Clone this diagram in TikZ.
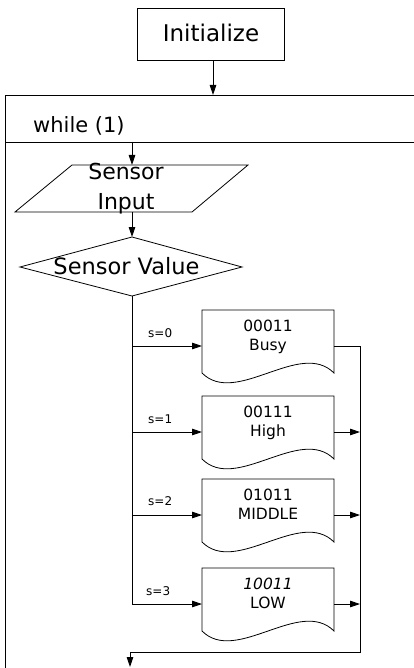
\documentclass[tikz,border=0pt]{standalone}
\usepackage{fontspec}
\setmainfont{DejaVu Sans}
\usetikzlibrary{arrows.meta}

\tikzset{
  line/.style={draw=black, line width=0.8pt},
  flow/.style={line, -{Triangle[length=10pt,width=6.5pt]}},
  lbl/.style={font=\fontsize{12}{12}\selectfont, inner sep=0pt, anchor=base west},
  boxtext/.style={font=\fontsize{15.5}{16}\selectfont, inner sep=0pt, anchor=base},
  bigtext/.style={font=\fontsize{22}{24}\selectfont, inner sep=0pt, anchor=base},
}

% document-shaped process box: name, top edge, first line, second line
\newcommand\docbox[4]{%
  \draw[line] (202,#2) -- (334,#2) -- (334,#2+63)
    .. controls (300,#2+29) and (236,#2+97) .. (202,#2+63) -- cycle;
  \node[boxtext] (#1a) at (268,#2+21.5) {#3};
  \node[boxtext] (#1b) at (268,#2+40.5) {#4};
  \coordinate (#1in) at (202,#2+36);
  \coordinate (#1out) at (334,#2+36);
}

\begin{document}
\begin{tikzpicture}[x=1pt, y=-1pt]
  \useasboundingbox (0,0) rectangle (414,668);

  % initialisation step
  \node[line, draw, minimum width=147pt, minimum height=52pt, inner sep=0pt,
        text depth=3pt, font=\fontsize{23}{24}\selectfont] (init) at (211,34) {Initialize};

  % endless loop frame with its header
  \draw[line] (414,95) -- (5,95) -- (5,668);
  \draw[line] (5,142) -- (414,142);
  \node[font=\fontsize{21}{24}\selectfont, inner sep=0pt, anchor=base west] (loop) at (33,133) {while (1)};
  \coordinate (loopin) at (213,95);
  \coordinate (hdr) at (132,142);

  % sensor input (parallelogram)
  \draw[line] (72,165) -- (248,165) -- (192,212) -- (15,212) -- cycle;
  \node[bigtext] (si1) at (126,180) {Sensor};
  \node[bigtext] (si2) at (126,210) {Input};
  \coordinate (sitop) at (132,165);
  \coordinate (sibot) at (132,212);

  % decision on the sensor value
  \draw[line] (132,237) -- (242,267) -- (132,296) -- (20,267) -- cycle;
  \node[bigtext, font=\fontsize{22.5}{24}\selectfont] (sv) at (126.5,274) {Sensor Value};
  \coordinate (dtop) at (132,237);
  \coordinate (dbot) at (132,296);

  % the four output states
  \docbox{busy}{310}{00011}{Busy}
  \docbox{high}{396}{00111}{High}
  \docbox{mid}{479}{01011}{MIDDLE}
  \docbox{low}{568}{\textit{10011}}{LOW}

  % flow into the loop body
  \draw[flow] (init.south -| loopin) -- (loopin);
  \draw[flow] (hdr) -- (sitop);
  \draw[flow] (sibot) -- (dtop);

  % branches of the decision
  \draw[flow] (dbot) |- (lowin);
  \draw[flow] (dbot |- busyin) -- (busyin);
  \draw[flow] (dbot |- highin) -- (highin);
  \draw[flow] (dbot |- midin) -- (midin);

  \node[lbl] (l0) at (148,337) {s=0};
  \node[lbl] (l1) at (148,423) {s=1};
  \node[lbl] (l2) at (148,505) {s=2};
  \node[lbl] (l3) at (146,595) {s=3};

  % merging the branches and leaving the loop body
  \coordinate (merge) at (360,652);
  \coordinate (exit) at (130,667);
  \draw[flow] (busyout) -| (merge) -| (exit);
  \draw[flow] (highout) -- (highout -| merge);
  \draw[flow] (midout) -- (midout -| merge);
  \draw[flow] (lowout) -- (lowout -| merge);
\end{tikzpicture}
\end{document}
